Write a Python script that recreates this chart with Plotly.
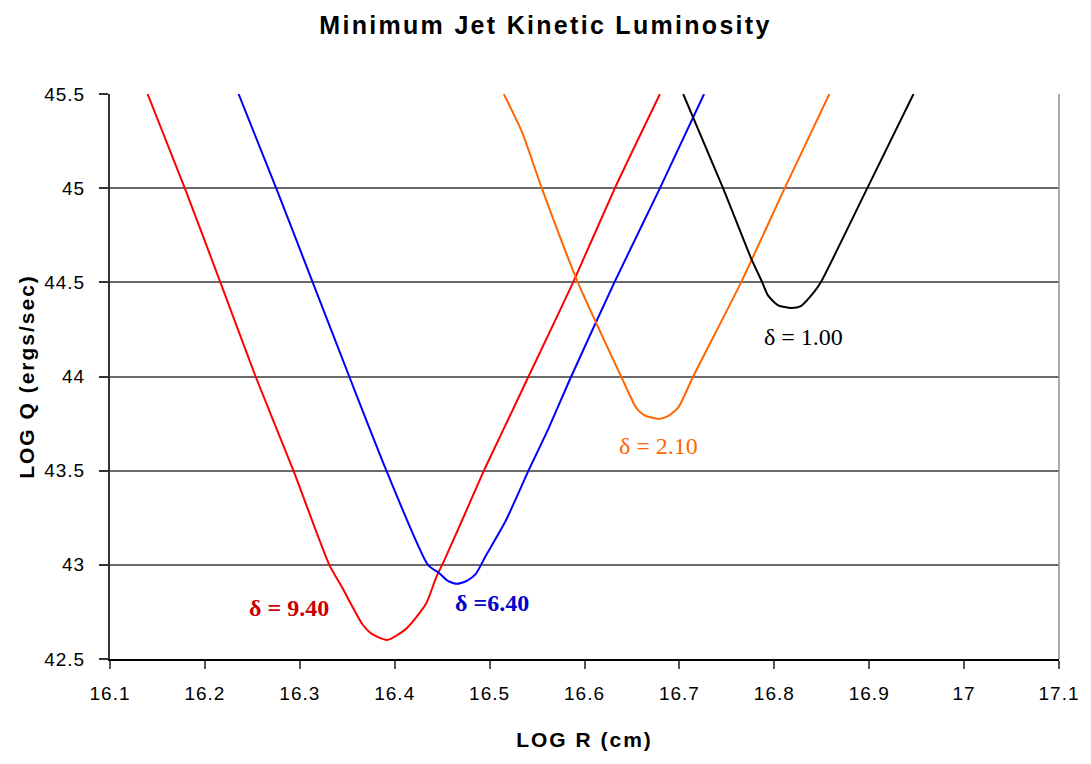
import plotly.graph_objects as go

# log R (cm) / log Q (ergs/sec) pairs for each Doppler factor
r_d940 = [16.1396, 16.1788, 16.2163, 16.2534, 16.2933, 16.3311, 16.3448, 16.3658, 16.3760,
          16.3920, 16.4120, 16.4330, 16.4435, 16.4520, 16.4708, 16.4940, 16.5150, 16.5410,
          16.5880, 16.6320, 16.6795]
q_d940 = [45.5, 45.0, 44.5, 44.0, 43.5, 43.0, 42.878, 42.686, 42.633,
          42.601, 42.660, 42.793, 42.931, 43.021, 43.234, 43.5, 43.723, 44.0,
          44.5, 45.0, 45.5]

r_d640 = [16.2355, 16.2751, 16.3136, 16.3521, 16.3913, 16.4350, 16.4467, 16.4560, 16.4655,
          16.4760, 16.4855, 16.4960, 16.5170, 16.5410, 16.5620, 16.5860, 16.6315, 16.6795,
          16.7260]
q_d640 = [45.5, 45.0, 44.5, 44.0, 43.5, 43.0, 42.957, 42.915, 42.899,
          42.915, 42.952, 43.048, 43.234, 43.5, 43.723, 44.0, 44.5, 45.0,
          45.5]

r_d210 = [16.5150, 16.5340, 16.5550, 16.5930, 16.6386, 16.6530, 16.6570, 16.6637, 16.6777,
          16.6880, 16.6990, 16.7145, 16.7650, 16.8110, 16.8580]
q_d210 = [45.5, 45.30, 45.0, 44.5, 44.0, 43.846, 43.819, 43.793, 43.775,
          43.789, 43.837, 44.0, 44.5, 45.0, 45.5]

r_d100 = [16.7040, 16.7460, 16.7757, 16.7873, 16.7933, 16.8040, 16.8178, 16.8280, 16.8420,
          16.8490, 16.8980, 16.9467]
q_d100 = [45.5, 45.0, 44.626, 44.5, 44.431, 44.378, 44.364, 44.374, 44.449,
          44.5, 45.0, 45.5]

series = [
    ("δ = 9.40", r_d940, q_d940, "#ff0000"),
    ("δ = 6.40", r_d640, q_d640, "#0000ff"),
    ("δ = 2.10", r_d210, q_d210, "#ff6600"),
    ("δ = 1.00", r_d100, q_d100, "#000000"),
]

# curve labels: text, position, colour, bold
label_text = ["δ = 9.40", "δ =6.40", "δ = 2.10", "δ = 1.00"]
label_r = [16.289, 16.502, 16.678, 16.831]
label_q = [42.77, 42.80, 43.63, 44.21]
label_color = ["#cc0000", "#0000cc", "#ff6600", "#000000"]
label_bold = [True, True, False, False]

x_ticks = [16.1, 16.2, 16.3, 16.4, 16.5, 16.6, 16.7, 16.8, 16.9, 17.0, 17.1]
x_tick_text = ["16.1", "16.2", "16.3", "16.4", "16.5", "16.6", "16.7", "16.8", "16.9", "17", "17.1"]
y_ticks = [42.5, 43.0, 43.5, 44.0, 44.5, 45.0, 45.5]
y_tick_text = ["42.5", "43", "43.5", "44", "44.5", "45", "45.5"]


def spaced(text, px, bold=False):
    inner = f"<b>{text}</b>" if bold else text
    return f'<span style="letter-spacing:{px}px">{inner}</span>'


fig = go.Figure()
for name, r, q, color in series:
    fig.add_trace(go.Scatter(
        x=r, y=q, mode="lines", name=name,
        line=dict(color=color, width=2, shape="spline", smoothing=0.6),
        showlegend=False,
    ))

for txt, x, y, c, b in zip(label_text, label_r, label_q, label_color, label_bold):
    fig.add_annotation(
        x=x, y=y, text=f"<b>{txt}</b>" if b else txt, showarrow=False,
        font=dict(family="Liberation Serif, Times New Roman, serif", size=24, color=c),
    )

sans = "Liberation Sans, Arial, sans-serif"
fig.update_layout(
    width=1091, height=764,
    margin=dict(l=110, r=29, t=94, b=105),
    paper_bgcolor="white", plot_bgcolor="white",
    title=dict(
        text=spaced("Minimum Jet Kinetic Luminosity", 2.3, bold=True),
        x=0.5, xanchor="center", y=0.967, yanchor="middle",
        font=dict(family=sans, size=25, color="black"),
    ),
    xaxis=dict(
        range=[16.1, 17.1], tickvals=x_ticks,
        ticktext=[spaced(t, 1) for t in x_tick_text],
        showgrid=False, zeroline=False,
        showline=True, linecolor="black", linewidth=2,
        ticks="outside", ticklen=8, tickcolor="#555555", tickwidth=2,
        ticklabelstandoff=8,
        tickfont=dict(family=sans, size=19, color="black"),
        title=dict(text=spaced("LOG R (cm)", 2, bold=True),
                   font=dict(family=sans, size=21, color="black"), standoff=30),
    ),
    yaxis=dict(
        range=[42.5, 45.5], tickvals=y_ticks,
        ticktext=[spaced(t, 1) for t in y_tick_text],
        showgrid=True, gridcolor="#6a6a6a", gridwidth=1.5, zeroline=False,
        showline=True, linecolor="#333333", linewidth=2,
        ticks="outside", ticklen=9, tickcolor="#333333", tickwidth=1.5,
        ticklabelstandoff=10,
        tickfont=dict(family=sans, size=19, color="black"),
        title=dict(text=spaced("LOG Q (ergs/sec)", 2, bold=True),
                   font=dict(family=sans, size=21, color="black"), standoff=4),
    ),
)
# right-hand frame edge
fig.add_shape(type="line", xref="paper", yref="paper", x0=1, x1=1, y0=0, y1=1,
              line=dict(color="#909090", width=1.5))

fig.write_html("out.html")
